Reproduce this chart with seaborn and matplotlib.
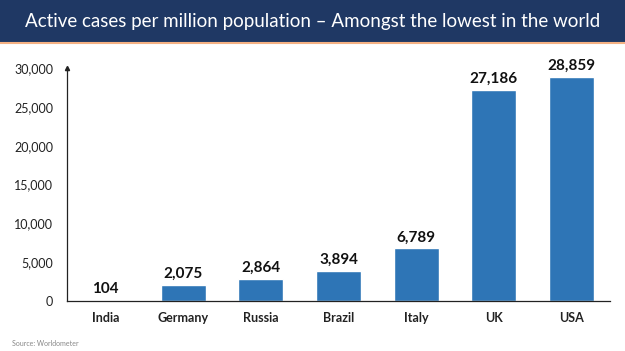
import matplotlib
matplotlib.use('Agg')
import pandas as pd
import matplotlib.pyplot as plt
import seaborn as sns

countries = ['India', 'Germany', 'Russia', 'Brazil', 'Italy', 'UK', 'USA']
active_per_million = [104, 2075, 2864, 3894, 6789, 27186, 28859]
bar_colors = ['#F2C27A', '#2E75B6', '#2E75B6', '#2E75B6', '#2E75B6', '#2E75B6', '#2E75B6']

df = pd.DataFrame({'Country': countries, 'Active': active_per_million})

sns.set_style('white')
plt.rcParams['font.family'] = ['Lato', 'DejaVu Sans']

fig = plt.figure(figsize=(6.25, 3.51), dpi=100)

#Header band with orange rule underneath
header = fig.add_axes([0, 1 - 42/351, 1, 42/351])
header.set_facecolor('#1F3864')
header.set_xticks([])
header.set_yticks([])
for s in header.spines.values():
    s.set_visible(False)
fig.add_artist(plt.Line2D([0, 1], [1 - 43/351, 1 - 43/351], color='#F4B183', lw=1.5))
fig.text(0.5, 1 - 21/351, 'Active cases per million population \u2013 Amongst the lowest in the world',
         color='white', fontsize=13.5, ha='center', va='center')

ax = fig.add_axes([67/625, 1 - 301/351, 543/625, (301 - 68)/351])
sns.barplot(data=df, x='Country', y='Active', hue='Country', palette=bar_colors,
            legend=False, width=0.58, saturation=1, ax=ax)
ax.set_ylim(0, 30000)
ax.set_xlim(-0.5, 6.5)
ax.set_yticks(range(0, 30001, 5000))
ax.set_yticklabels([f'{v:,}' for v in range(0, 30001, 5000)], fontsize=9, color='#222222')
ax.set_xlabel('')
ax.set_ylabel('')
ax.tick_params(axis='x', length=0, pad=8)
ax.tick_params(axis='y', length=0, pad=10)
for lbl in ax.get_xticklabels():
    lbl.set_fontweight('bold')
    lbl.set_fontsize(9)
    lbl.set_color('#222222')

#Tick marks between categories on the x axis
ax.set_xticks([i + 0.5 for i in range(-1, 7)], minor=True)
ax.tick_params(axis='x', which='minor', length=3, direction='in', color='#444444')

for s in ['top', 'right']:
    ax.spines[s].set_visible(False)
ax.spines['left'].set_color('#222222')
ax.spines['bottom'].set_color('#222222')
ax.spines['left'].set_linewidth(0.9)
ax.spines['bottom'].set_linewidth(0.9)
ax.plot(-0.5, 30000, marker='^', color='#222222', markersize=3, clip_on=False,
        transform=ax.transData)

for i, v in enumerate(active_per_million):
    ax.text(i, v + 500, f'{v:,}', ha='center', va='bottom', fontsize=11,
            fontweight='bold', color='#111111')

fig.text(12/625, 1 - 343/351, 'Source: Worldometer', fontsize=5, color='#888888',
         ha='left', va='center')

fig.savefig('out.png', dpi=100, facecolor='white')
